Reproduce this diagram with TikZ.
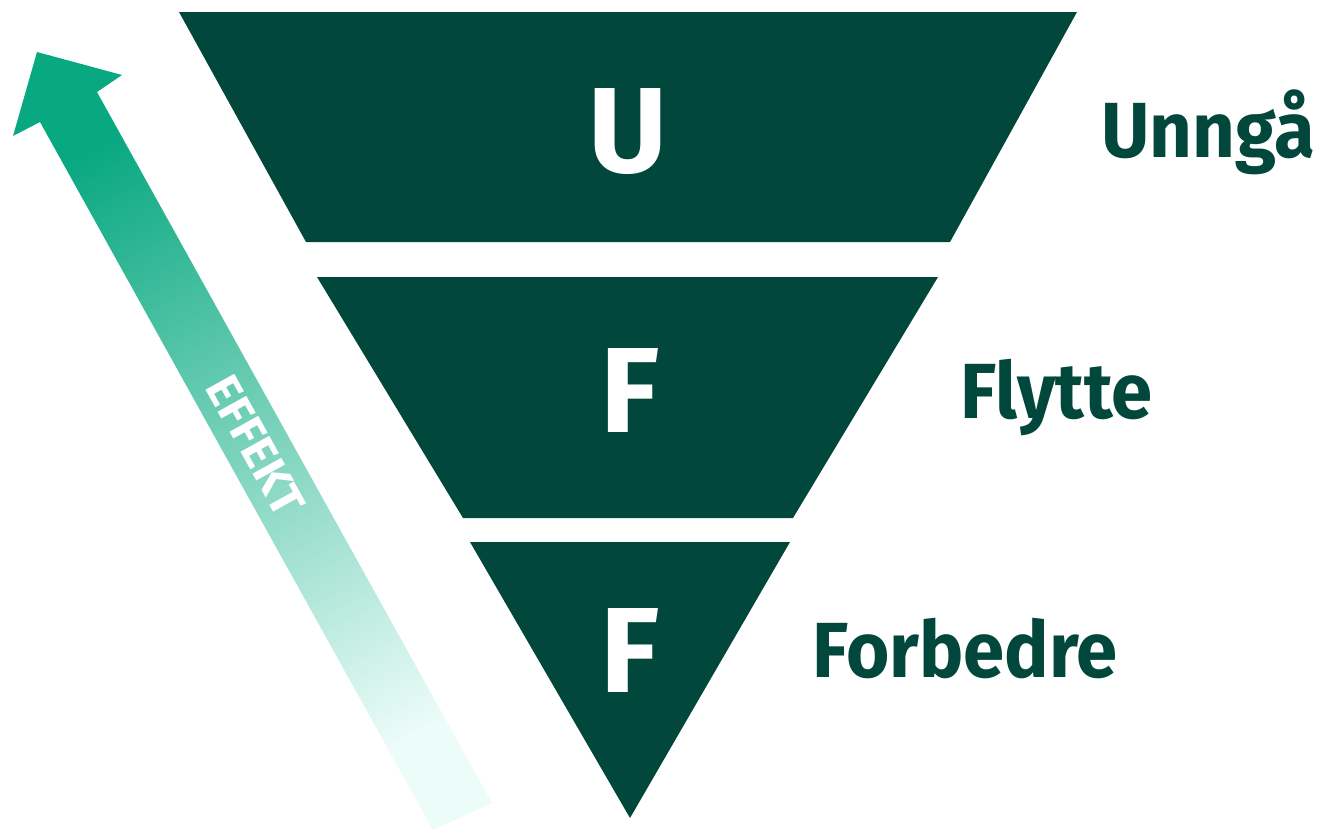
\documentclass[tikz,border=0pt]{standalone}
\usepackage{fontspec}
\setmainfont{Fira Sans}
\newfontfamily\tagfont[FakeStretch=0.95]{Fira Sans}
\usepackage{tikz}
\usetikzlibrary{calc, positioning}
\definecolor{deepgreen}{RGB}{1,71,59}
\definecolor{arrowtop}{RGB}{8,168,128}
\definecolor{arrowbottom}{RGB}{236,252,248}

\begin{document}
\begin{tikzpicture}[
  x=0.02cm, y=-0.02cm,
  level/.style={fill=deepgreen},
  letter/.style={anchor=base, text=white, inner sep=0pt,
                 font=\fontsize{69}{69}\selectfont\bfseries},
  tag/.style={anchor=base west, text=deepgreen, inner sep=0pt,
              font=\tagfont\fontsize{44.5}{44.5}\selectfont\bfseries}
]
\useasboundingbox (0,0) rectangle (1323,832);
% effect arrow
\coordinate (tip) at (37,52);
\coordinate (hl) at (13,136);
\coordinate (hr) at (122,75);
\coordinate (sl) at (40,122);
\coordinate (sr) at (97,92);
\coordinate (bl) at (433,830);
\coordinate (br) at (492,803);
\shade[top color=arrowtop, bottom color=arrowbottom, shading angle=29]
  (tip) -- (hr) -- (sr) -- (br) -- (bl) -- (sl) -- (hl) -- cycle;
\node[rotate=-61, text=white, inner sep=0pt,
      font=\fontsize{27}{27}\selectfont\bfseries] (effekt) at (256,446) {EFFEKT};
% levels
\fill[level] (179,12) -- (1077,12) -- (950,242) -- (306,242) -- cycle;
\fill[level] (317,277) -- (938,277) -- (793,518) -- (463,518) -- cycle;
\fill[level] (470,542) -- (790,542) -- (630,818) -- cycle;
\node[letter] (u1) at (628,172) {U};
\node[letter] (f1) at (630,432) {F};
\node[letter] (f2) at (630,692) {F};
\node[tag] (unnga) at (1101,157) {Unngå};
\node[tag] (flytte) at (960,418) {Flytte};
\node[tag] (forbedre) at (812,677) {Forbedre};
\end{tikzpicture}
\end{document}
